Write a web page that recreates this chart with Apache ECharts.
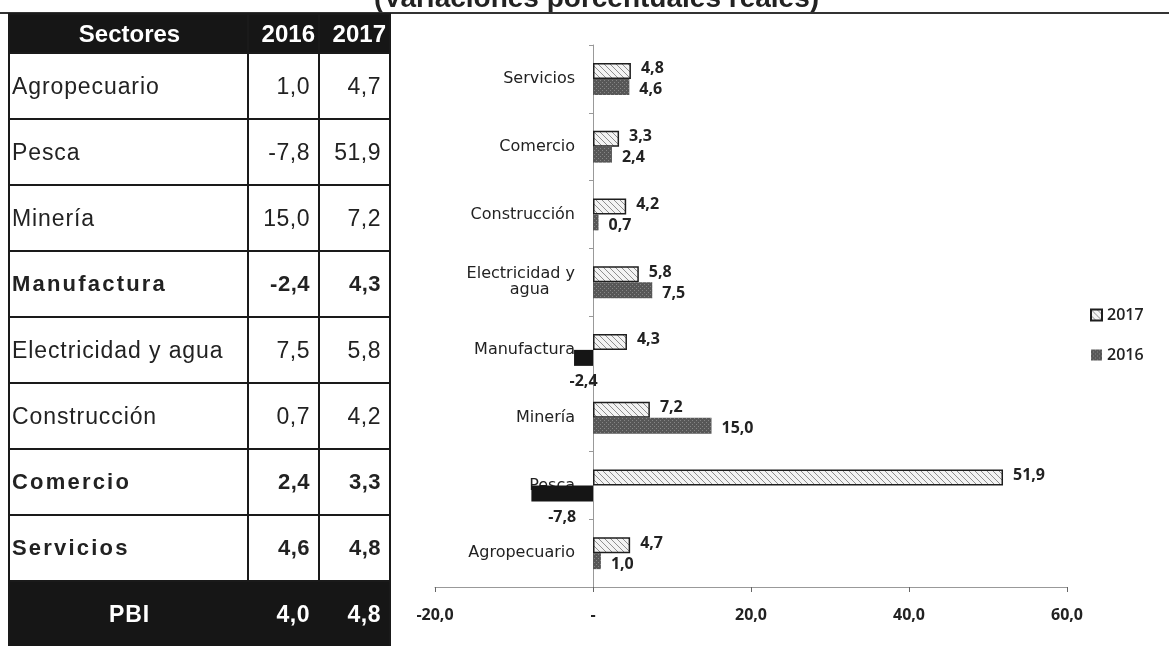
<!DOCTYPE html>
<html>
<head>
<meta charset="utf-8">
<script src="https://cdn.jsdelivr.net/npm/echarts@6/dist/echarts.min.js"></script>
<style>
  body { margin: 0; background: #fff; }
  #chart { position: absolute; left: 0; top: 0; width: 1169px; height: 646px; }
  #titulo { position: absolute; left: 12px; top: -16px; width: 1169px; text-align: center;
    font: bold 28px "Liberation Sans", Arial, sans-serif; color: #222; line-height: 28px; }
  #linea { position: absolute; left: 0; top: 12px; width: 1169px; height: 2px; background: #333; }
  #tabla { position: absolute; left: 8px; top: 13px; border-collapse: collapse;
    font-family: "Liberation Sans", Arial, sans-serif; color: #222; }
  #tabla td { border: 2px solid #1a1a1a; padding: 0; font-size: 23px; }
  #tabla .cab td { background: #161616; color: #fff; font-weight: bold; font-size: 24px; height: 37px; }
  #tabla .fila td { height: 64px; }
  #tabla .nom { width: 235px; padding-left: 2px; letter-spacing: 0.9px; }
  #tabla .num { width: 61px; text-align: right; padding-right: 8px; letter-spacing: 0.5px; }
  #tabla .bold td { font-weight: bold; font-size: 22px; }
  #tabla .bold .nom { letter-spacing: 2.2px; }
  #tabla .pbi td { background: #161616; color: #fff; font-weight: bold; height: 64px; font-size: 23px; }
</style>
</head>
<body>
<div id="chart"></div>
<div id="titulo">(Variaciones porcentuales reales)</div>
<div id="linea"></div>
<table id="tabla"></table>
<script>
// datos del cuadro y del gráfico
var sectores = ['Agropecuario', 'Pesca', 'Minería', 'Manufactura', 'Electricidad y agua', 'Construcción', 'Comercio', 'Servicios'];
var var2016 = [1.0, -7.8, 15.0, -2.4, 7.5, 0.7, 2.4, 4.6];
var var2017 = [4.7, 51.9, 7.2, 4.3, 5.8, 4.2, 3.3, 4.8];
var anios = ['2016', '2017'];
var pbi = [4.0, 4.8];
var negritas = ['Manufactura', 'Comercio', 'Servicios'];
var ejeMin = -20, ejeMax = 60;

function fmt(v) {
  return v.toFixed(1).replace('.', ',');
}

tabla();
grafico();

//cuadro de la izquierda
function tabla() {
  var html = '<tr class="cab"><td class="nom" style="text-align:center;letter-spacing:0">Sectores</td>' +
    '<td class="num" style="padding-right:3px;letter-spacing:0">' + anios[0] + '</td>' +
    '<td class="num" style="padding-right:3px;letter-spacing:0">' + anios[1] + '</td></tr>';
  for (var i = 0; i < sectores.length; i++) {
    var cls = negritas.indexOf(sectores[i]) >= 0 ? 'fila bold' : 'fila';
    html += '<tr class="' + cls + '"><td class="nom">' + sectores[i] + '</td>' +
      '<td class="num">' + fmt(var2016[i]) + '</td><td class="num">' + fmt(var2017[i]) + '</td></tr>';
  }
  html += '<tr class="pbi"><td class="nom" style="text-align:center;border-right-color:#161616">PBI</td>' +
    '<td class="num" style="border-right-color:#161616">' + fmt(pbi[0]) + '</td><td class="num">' + fmt(pbi[1]) + '</td></tr>';
  document.getElementById('tabla').innerHTML = html;
}

//trama rayada para 2017
function rayado() {
  var c = document.createElement('canvas');
  c.width = 6; c.height = 6;
  var ctx = c.getContext('2d');
  ctx.fillStyle = '#f3f3f3';
  ctx.fillRect(0, 0, 6, 6);
  ctx.strokeStyle = '#8e8e8e';
  ctx.lineWidth = 1;
  ctx.beginPath();
  ctx.moveTo(0, 0); ctx.lineTo(6, 6);
  ctx.moveTo(-3, 3); ctx.lineTo(3, 9);
  ctx.moveTo(3, -3); ctx.lineTo(9, 3);
  ctx.stroke();
  return c;
}
//trama punteada para 2016
function punteado() {
  var c = document.createElement('canvas');
  c.width = 4; c.height = 4;
  var ctx = c.getContext('2d');
  ctx.fillStyle = '#575757';
  ctx.fillRect(0, 0, 4, 4);
  ctx.fillStyle = '#858585';
  ctx.fillRect(0, 0, 1, 1);
  ctx.fillRect(2, 2, 1, 1);
  return c;
}

function grafico() {
  var mychart = echarts.init(document.getElementById('chart'));
  var trama17 = {image: rayado(), repeat: 'repeat'};
  var trama16 = {image: punteado(), repeat: 'repeat'};
  var gridLeft = 435, gridRight = 102;
  //desplazar el eje Y hasta el cero
  var anchoGrid = 1169 - gridLeft - gridRight;
  var desplazamiento = -anchoGrid * (0 - ejeMin) / (ejeMax - ejeMin);
  var labelStyle = {
    show: true,
    fontFamily: 'Open Sans',
    fontWeight: 'bold',
    fontSize: 16,
    color: '#222',
    formatter: function (p) { return fmt(p.value); }
  };
  var option = {
    animation: false,
    grid: {left: gridLeft, right: gridRight, top: 45, bottom: 59},
    legend: {
      data: ['2017', '2016'],
      orient: 'vertical',
      left: 1085,
      top: 302,
      itemGap: 24,
      itemWidth: 11,
      itemHeight: 11,
      icon: 'rect',
      textStyle: {fontFamily: 'Open Sans', fontSize: 16, fontWeight: 600, color: '#222'}
    },
    xAxis: {
      type: 'value',
      min: ejeMin,
      max: ejeMax,
      interval: 20,
      axisLine: {show: true, onZero: false, lineStyle: {color: '#999'}},
      axisTick: {show: true, length: 5, lineStyle: {color: '#666'}},
      splitLine: {show: false},
      axisLabel: {
        margin: 20,
        fontFamily: 'Open Sans',
        fontWeight: 'bold',
        fontSize: 16,
        color: '#222',
        formatter: function (v) { return v === 0 ? '-' : fmt(v); }
      }
    },
    yAxis: {
      type: 'category',
      data: sectores,
      offset: desplazamiento,
      axisLine: {show: true, onZero: false, lineStyle: {color: '#999'}},
      axisTick: {show: true, length: 4, lineStyle: {color: '#999'}},
      axisLabel: {
        margin: 18,
        fontFamily: 'DejaVu Sans',
        fontSize: 16,
        color: '#222',
        formatter: function (v) { return v.replace(' agua', '\nagua     '); }
      }
    },
    series: [{
      name: '2017',
      type: 'bar',
      barWidth: 16,
      barGap: '0%',
      itemStyle: {color: trama17, borderColor: '#1e1e1e', borderWidth: 1.5},
      label: Object.assign({}, labelStyle, {position: 'right', distance: 10, offset: [0, -2]}),
      data: var2017
    }, {
      name: '2016',
      type: 'bar',
      barWidth: 16,
      barGap: '0%',
      itemStyle: {color: trama16},
      label: Object.assign({}, labelStyle, {position: 'right', distance: 10, offset: [0, 3]}),
      data: var2016.map(function (v) {
        if (v < 0) {
          return {value: v, itemStyle: {color: '#151515'}, label: {position: 'bottom', distance: 8, offset: [0, 0]}};
        }
        return v;
      })
    }]
  };
  mychart.setOption(option);
}
</script>
</body>
</html>
